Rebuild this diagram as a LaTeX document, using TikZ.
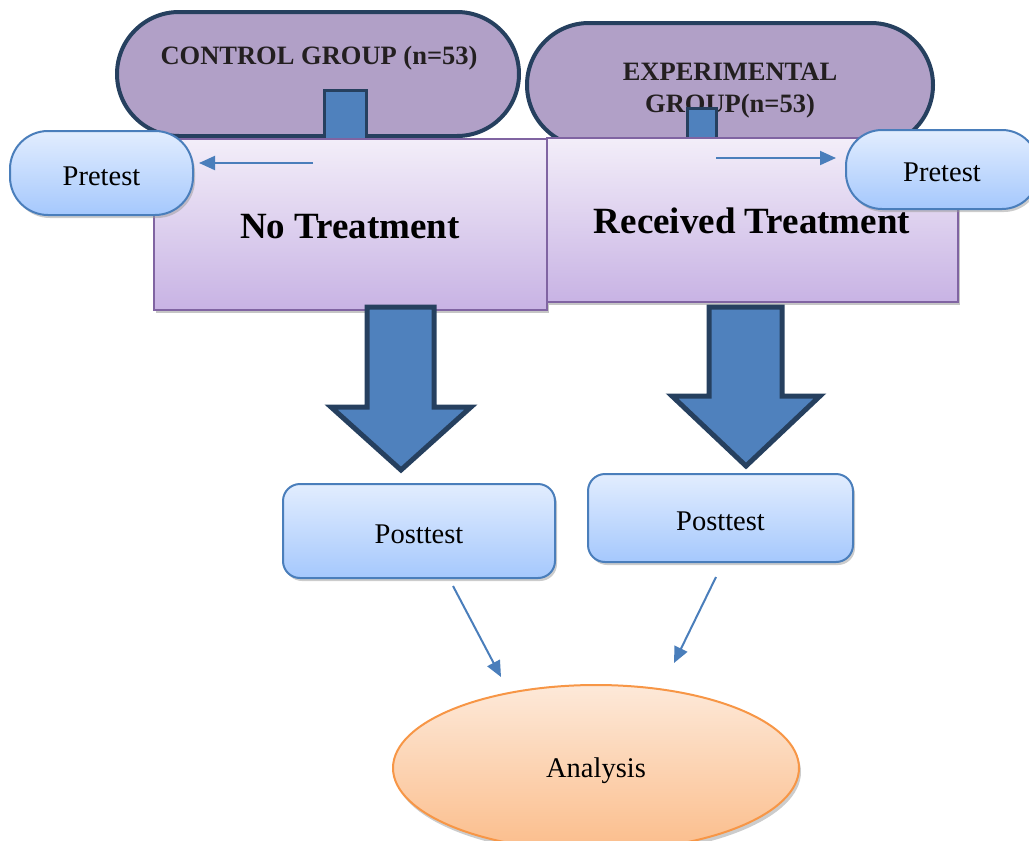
\documentclass[tikz,border=0pt]{standalone}
\usepackage{fontspec}
\setmainfont{Liberation Serif}
\usetikzlibrary{arrows.meta,shapes.geometric,shadows}
\definecolor{stadfill}{HTML}{B1A0C7}
\definecolor{navyb}{HTML}{26405F}
\definecolor{stemfill}{HTML}{4F81BD}
\definecolor{recttop}{HTML}{F3EEF9}
\definecolor{rectbot}{HTML}{C8B3E4}
\definecolor{rectline}{HTML}{8064A2}
\definecolor{bluetop}{HTML}{E2EDFE}
\definecolor{bluebot}{HTML}{A5C8FD}
\definecolor{blueline}{HTML}{4A7EBB}
\definecolor{ortop}{HTML}{FDE9D9}
\definecolor{orbot}{HTML}{FBBD8B}
\definecolor{orline}{HTML}{F79646}
\definecolor{textdark}{HTML}{231F20}
\begin{document}
\begin{tikzpicture}[x=1pt,y=-1pt,
  stadium/.style={draw=navyb, line width=4pt, fill=stadfill, rounded corners=62pt,
    minimum height=124pt, inner sep=0pt},
  stem/.style={draw=navyb, line width=3pt, fill=stemfill, inner sep=0pt},
  head/.style={font=\bfseries\fontsize{26.5}{32}\selectfont, text=textdark, inner sep=0pt},
  treat/.style={draw=rectline, line width=2pt, top color=recttop, bottom color=rectbot,
    inner sep=0pt, font=\bfseries\fontsize{37}{44}\selectfont, text height=28pt, text depth=0pt,
    drop shadow={shadow xshift=2pt, shadow yshift=-3pt, fill=black!45}},
  bluebox/.style={draw=blueline, line width=2pt, top color=bluetop, bottom color=bluebot,
    inner sep=0pt, font=\fontsize{28.5}{34}\selectfont, text height=24pt, text depth=0pt,
    drop shadow={shadow xshift=2pt, shadow yshift=-3pt, fill=black!40}},
  bigarrow/.style={draw=navyb, line width=5pt, fill=stemfill, line join=miter},
  thinarrow/.style={draw=blueline, line width=2pt, -{Triangle[length=16pt,width=14pt]}}
]
\useasboundingbox (0,0) rectangle (1029,841);

% group stadiums
\node[stadium, minimum width=402pt] (ctrl) at (318,74) {};
\node[stadium, minimum width=406pt] (exp) at (730,85) {};
\node[head] (ctrltxt) at (319,58) {CONTROL GROUP (n=53)};
\node[head, align=center] (exptxt) at (730,91) {EXPERIMENTAL\\GROUP(n=53)};

% stems
\node[stem, minimum width=42pt, minimum height=52pt] (stemL) at (345.5,116) {};
\node[stem, minimum width=29pt, minimum height=34pt] (stemR) at (702,125) {};

% treatment boxes
\node[treat, minimum width=393pt, minimum height=171pt] (noT) at (350,224) {No Treatment};
\node[treat, minimum width=411pt, minimum height=164pt] (recT) at (752,219.5) {Received Treatment};

% pretest boxes
\node[bluebox, rounded corners=38pt, minimum width=183pt, minimum height=84pt] (preL) at (101.5,173) {Pretest};
\node[bluebox, rounded corners=36pt, minimum width=192pt, minimum height=79pt] (preR) at (942,169.5) {Pretest};

\coordinate (cL) at (313,163);
\coordinate (cR) at (716,158);
\draw[thinarrow, shorten >=5pt] (cL) -- (cL -| preL.east);
\draw[thinarrow, shorten >=9pt] (cR) -- (cR -| preR.west);

% big arrows
\draw[bigarrow] (367,307) -- (434,307) -- (434,407) -- (471,407) -- (401,470) -- (331,407) -- (367,407) -- cycle;
\draw[bigarrow] (709,307) -- (782,307) -- (782,396) -- (820,396) -- (746,466) -- (672,396) -- (709,396) -- cycle;

% posttest boxes
\node[bluebox, rounded corners=17pt, minimum width=272pt, minimum height=94pt] (postL) at (419,531) {Posttest};
\node[bluebox, rounded corners=17pt, minimum width=265pt, minimum height=88pt] (postR) at (720.5,518) {Posttest};

% analysis
\node[ellipse, draw=orline, line width=2pt, top color=ortop, bottom color=orbot,
  minimum width=406pt, minimum height=166pt, inner sep=0pt, font=\fontsize{28.5}{34}\selectfont,
  text depth=0pt,
  drop shadow={shadow xshift=2pt, shadow yshift=-4pt, fill=black!40}] (ana) at (596,768) {Analysis};

\coordinate (sL) at (453,586);
\coordinate (eL) at (501,677);
\coordinate (sR) at (716,577);
\coordinate (eR) at (674,663);
\draw[thinarrow] (sL) -- (eL);
\draw[thinarrow] (sR) -- (eR);
\end{tikzpicture}
\end{document}
